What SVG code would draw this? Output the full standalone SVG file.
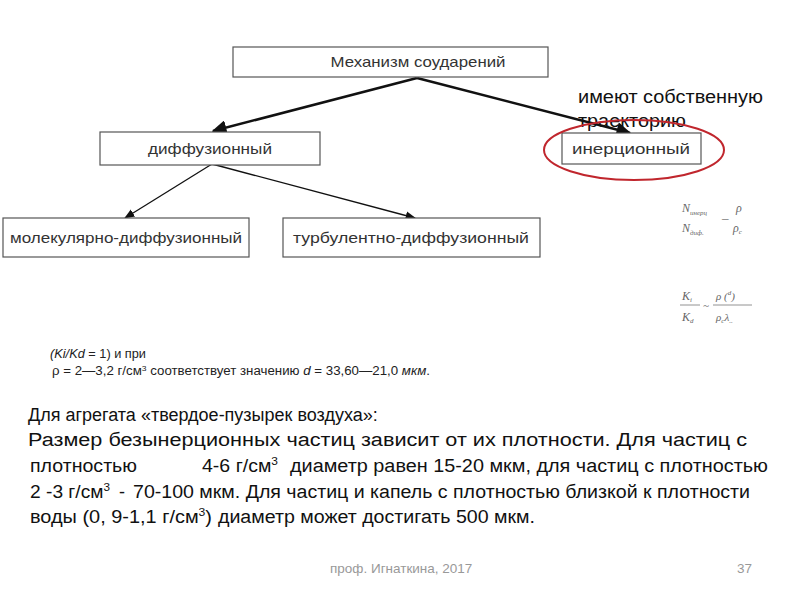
<svg xmlns="http://www.w3.org/2000/svg" width="800" height="600" viewBox="0 0 800 600">
<style>
.box{fill:#fff;stroke:#555;stroke-width:1.2}
.lbl{font-family:"Liberation Sans",Arial,sans-serif;font-size:15px;fill:#333;text-anchor:middle}
.con{stroke:#111;fill:none}
.par{font-family:"Liberation Sans",Arial,sans-serif;font-size:18px;fill:#111}
.sm{font-family:"Liberation Sans",Arial,sans-serif;font-size:12.5px;fill:#222}
.f{font-family:"Liberation Serif",serif;fill:#666;font-style:italic}
</style>
<defs>
<marker id="ah" viewBox="0 0 10 10" refX="9" refY="5" markerWidth="6" markerHeight="6" orient="auto" markerUnits="strokeWidth"><path d="M0,0 L10,5 L0,10 z" fill="#111"/></marker>
<marker id="ah2" viewBox="0 0 10 10" refX="9" refY="5" markerWidth="8" markerHeight="8" orient="auto" markerUnits="strokeWidth"><path d="M0,1 L10,5 L0,9 z" fill="#111"/></marker>
</defs>
<rect width="800" height="600" fill="#fff"/>
<g id="connectors">
<line class="con" x1="417" y1="78" x2="213" y2="131" stroke-width="2.5" marker-end="url(#ah)"/>
<line class="con" x1="417" y1="78" x2="630" y2="133" stroke-width="2.5" marker-end="url(#ah)"/>
<line class="con" x1="212" y1="164" x2="125" y2="218" stroke-width="1.3" marker-end="url(#ah2)"/>
<line class="con" x1="212" y1="164" x2="415" y2="218" stroke-width="1.3" marker-end="url(#ah2)"/>
</g>
<g id="n-mech"><rect class="box" x="233" y="47" width="315" height="30"/><text class="lbl" x="418" y="67" textLength="175" lengthAdjust="spacingAndGlyphs">Механизм соударений</text></g>
<g id="n-diff"><rect class="box" x="100" y="132" width="220" height="33"/><text class="lbl" x="210" y="154" textLength="124" lengthAdjust="spacingAndGlyphs">диффузионный</text></g>
<g id="n-inert"><rect class="box" x="562" y="133" width="139" height="31"/><text class="lbl" x="631" y="154" textLength="118" lengthAdjust="spacingAndGlyphs">инерционный</text></g>
<g id="n-mol"><rect class="box" x="3" y="218" width="246" height="39"/><text class="lbl" x="126" y="243" textLength="232" lengthAdjust="spacingAndGlyphs">молекулярно-диффузионный</text></g>
<g id="n-turb"><rect class="box" x="283" y="218" width="257" height="39"/><text class="lbl" x="411" y="243" textLength="236" lengthAdjust="spacingAndGlyphs">турбулентно-диффузионный</text></g>
<g id="note">
<text x="578" y="103" font-family="Liberation Sans,Arial,sans-serif" font-size="18" fill="#111" textLength="185" lengthAdjust="spacingAndGlyphs">имеют собственную</text>
<text x="578" y="127" font-family="Liberation Sans,Arial,sans-serif" font-size="18" fill="#111" textLength="108" lengthAdjust="spacingAndGlyphs">траекторию</text>
<ellipse cx="634" cy="150" rx="90" ry="30" fill="none" stroke="#c0262d" stroke-width="2"/>
</g>
<g id="formulas">
<text class="f" x="682" y="212" font-size="12">N<tspan font-size="7" dy="3">инерц</tspan></text>
<text class="f" x="682" y="232" font-size="12">N<tspan font-size="7" dy="3">диф.</tspan></text>
<text class="f" x="722" y="222" font-size="13">–</text>
<text class="f" x="736" y="212" font-size="12">ρ</text>
<text class="f" x="733" y="232" font-size="12">ρ<tspan font-size="7" dy="2">c</tspan></text>
<line x1="680" y1="305" x2="700" y2="305" stroke="#777" stroke-width="0.8"/>
<text class="f" x="682" y="300" font-size="12">K<tspan font-size="7" dy="2">i</tspan></text>
<text class="f" x="682" y="321" font-size="12">K<tspan font-size="7" dy="2">d</tspan></text>
<text class="f" x="703" y="309" font-size="11">~</text>
<line x1="713" y1="305" x2="752" y2="305" stroke="#777" stroke-width="0.8"/>
<text class="f" x="716" y="300" font-size="11">ρ (<tspan font-size="7" dy="-5">d</tspan><tspan dy="5">)</tspan></text>
<text class="f" x="716" y="321" font-size="11">ρ<tspan font-size="7" dy="2">c</tspan><tspan dy="-2">λ</tspan><tspan font-size="7" dy="2">..</tspan></text>
</g>
<g id="cond">
<text class="sm" x="50" y="358" textLength="96" lengthAdjust="spacingAndGlyphs"><tspan font-style="italic">(Ki/Kd</tspan> = 1) и при</text>
<text class="sm" x="52" y="375" textLength="378" lengthAdjust="spacingAndGlyphs">ρ = 2—3,2 г/см<tspan font-size="8" dy="-4">3</tspan><tspan dy="4"> соответствует значению </tspan><tspan font-style="italic">d</tspan> = 33,60—21,0 <tspan font-style="italic">мкм</tspan>.</text>
</g>
<g id="paragraph">
<text class="par" x="28" y="421">Для агрегата «твердое-пузырек воздуха»:</text>
<text class="par" x="28" y="446" textLength="719" lengthAdjust="spacingAndGlyphs">Размер безынерционных частиц  зависит от их плотности. Для частиц с</text>
<text class="par" x="30" y="472" textLength="107" lengthAdjust="spacingAndGlyphs">плотностью</text>
<text class="par" x="202" y="472" textLength="76" lengthAdjust="spacingAndGlyphs">4-6 г/см<tspan font-size="11" dy="-7">3</tspan></text>
<text class="par" x="290" y="472" textLength="478" lengthAdjust="spacingAndGlyphs">диаметр равен 15-20 мкм,  для  частиц с плотностью</text>
<text class="par" x="30" y="498" textLength="80" lengthAdjust="spacingAndGlyphs">2 -3 г/см<tspan font-size="11" dy="-7">3</tspan></text>
<text class="par" x="119" y="498">-</text>
<text class="par" x="133" y="498" textLength="617" lengthAdjust="spacingAndGlyphs">70-100 мкм. Для частиц и капель с плотностью близкой к плотности</text>
<text class="par" x="30" y="523" textLength="182" lengthAdjust="spacingAndGlyphs">воды  (0, 9-1,1 г/см<tspan font-size="11" dy="-7">3</tspan><tspan dy="7">)</tspan></text>
<text class="par" x="218" y="523" textLength="317" lengthAdjust="spacingAndGlyphs">диаметр может достигать 500 мкм.</text>
</g>
<g id="footer">
<text x="330" y="573" font-family="Liberation Sans,Arial,sans-serif" font-size="13.5" fill="#999">проф. Игнаткина,  2017</text>
<text x="737" y="573" font-family="Liberation Sans,Arial,sans-serif" font-size="13.5" fill="#999">37</text>
</g>
</svg>
